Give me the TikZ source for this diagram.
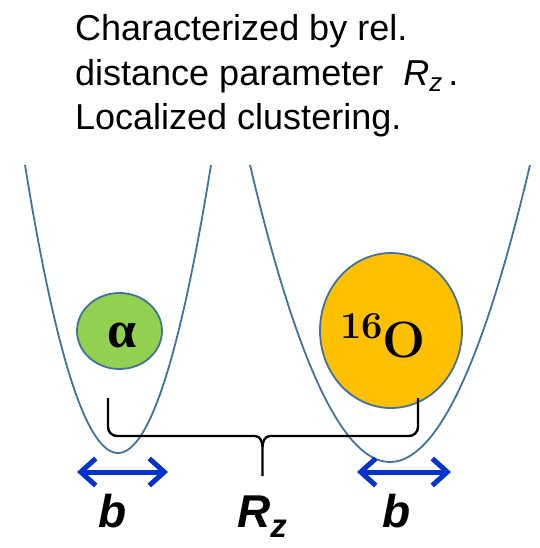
\documentclass[tikz,border=0pt]{standalone}
\usepackage{fontspec}
\usetikzlibrary{shapes.geometric,arrows.meta}
\newfontfamily\arial{Liberation Sans}
\newfontfamily\timesb{Liberation Serif}
\definecolor{wellc}{RGB}{65,113,156}
\definecolor{alphafill}{RGB}{146,208,80}
\definecolor{ofill}{RGB}{255,192,0}
\definecolor{arrblue}{RGB}{0,51,204}
\newcommand{\alphasym}{\timesb\bfseries\fontsize{52}{52}\selectfont α}
\newcommand{\oxysym}{\fontsize{51}{51}\selectfont\bfseries\raisebox{19pt}{\fontsize{38}{38}\selectfont 16}O}
\begin{document}
\begin{tikzpicture}[x=1pt,y=-1pt,
  well/.style={draw=wellc,line width=1.8pt},
  nucleus/.style={ellipse,draw=wellc,line width=1.8pt,inner sep=0pt},
  bracepath/.style={draw=black,line width=2.4pt},
  barrow/.style={draw=arrblue,line width=5pt,{Straight Barb[length=15pt,width=27pt]}-{Straight Barb[length=15pt,width=27pt]}},
  toptext/.style={anchor=base west,inner sep=0pt,font=\arial\fontsize{36}{43}\selectfont},
  lab/.style={anchor=base,inner sep=0pt,font=\arial\bfseries\itshape\fontsize{46}{50}\selectfont},
  symlab/.style={anchor=base,inner sep=0pt}]
\useasboundingbox (0,0) rectangle (539,548);
% potential wells
\draw[well] plot[domain=-1:1,samples=81,smooth] ({118+93*\x},{453-288*(\x)*(\x)});
\draw[well] plot[domain=-1:1,samples=81,smooth] ({390+140*\x},{462-297*(\x)*(\x)});
% clusters
\node[nucleus,fill=alphafill,minimum width=85pt,minimum height=76pt] (alphanuc) at (119.5,331) {};
\node[symlab] (alphalab) at (122,347) {\alphasym};
\node[nucleus,fill=ofill,minimum width=142pt,minimum height=155pt] (oxy) at (391,330.5) {};
\node[symlab] (oxylab) at (383,357) {\oxysym};
% brace
\draw[bracepath] (108,398) -- (108,427) to[out=-90,in=180] (117,436) -- (255,436) to[out=0,in=90] (262.5,447) -- (262.5,476);
\draw[bracepath] (418,398) -- (418,427) to[out=-90,in=0] (409,436) -- (270,436) to[out=180,in=90] (262.5,447);
% width arrows
\coordinate (bl1) at (77,472);
\coordinate (bl2) at (168,472);
\coordinate (br1) at (357,472);
\coordinate (br2) at (451,472);
\draw[barrow] (bl1) -- (bl2);
\draw[barrow] (br1) -- (br2);
% labels
\node[lab] (b1) at (113,527) {b};
\node[lab] (rz) at (262,527) {R\raisebox{-10pt}{\fontsize{33}{33}\selectfont z}};
\node[lab] (b2) at (397,527) {b};
% top text
\node[toptext] (t1) at (75,40.7) {Characterized by rel.};
\node[toptext] (t2) at (75,85.4) {distance parameter\hspace{20pt}\textit{R}\raisebox{-6pt}{\fontsize{26}{26}\selectfont\itshape z}\hspace{6pt}.};
\node[toptext] (t3) at (75,130) {Localized clustering.};
\end{tikzpicture}
\end{document}
